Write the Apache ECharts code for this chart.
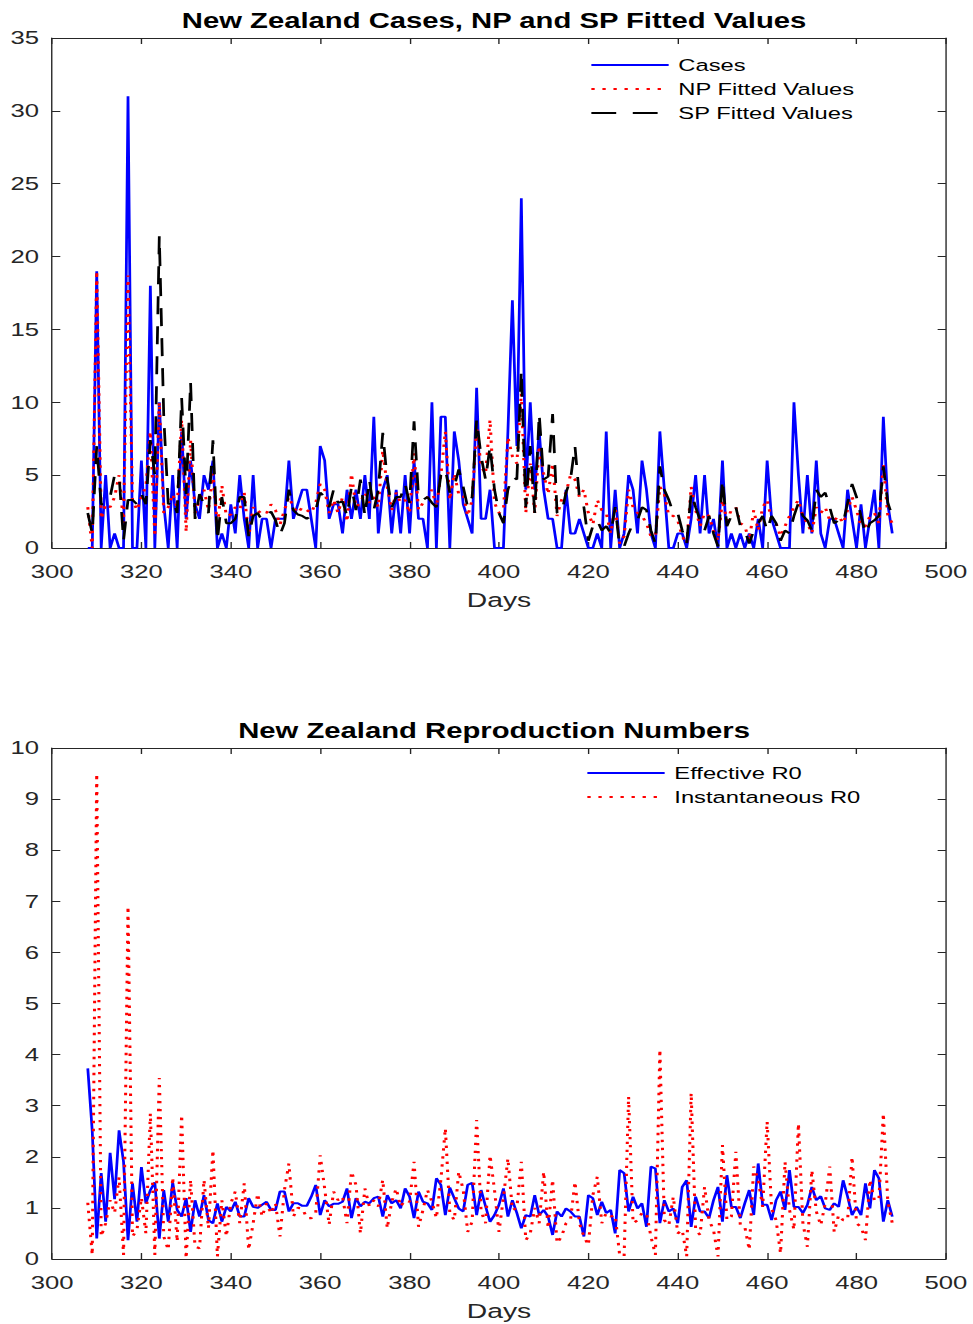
<!DOCTYPE html>
<html>
<head>
<meta charset="utf-8">
<script src="https://cdn.jsdelivr.net/npm/echarts@6.0.0/dist/echarts.min.js"></script>
<style>
html,body{margin:0;padding:0;background:#fff;overflow:hidden;}
#wrap{width:973px;height:1324px;overflow:hidden;}
#chart{width:705px;height:1324px;transform:scaleX(1.3801);transform-origin:0 0;}
</style>
</head>
<body>
<div id="wrap"><div id="chart"></div></div>
<script>
// ---- data (days 308 .. 488) ----
const firstDay = 308;
const xTicks = [300, 320, 340, 360, 380, 400, 420, 440, 460, 480, 500];

const cases = [
  0,0,19,0,5,0,1,0,0,31,
  0,0,6,0,18,0,10,3,0,5,
  0,8,2,6,3,2,5,4,6,0,
  1,0,3,1,5,2,0,5,0,2,
  2,0,2,2,2,6,2,3,4,4,
  2,0,7,6,2,3,3,1,4,2,
  4,2,5,2,9,1,4,5,1,4,
  1,5,1,6,2,2,0,10,0,9,
  9,0,8,6,3,2,1,11,2,2,
  4,0,0,0,8,17,7,24,4,10,
  4,8,4,2,2,0,0,4,1,1,
  2,1,0,0,1,0,8,0,4,0,
  1,5,4,1,6,4,1,0,8,4,
  0,0,1,1,0,2,5,1,5,1,
  2,0,6,0,1,0,1,0,1,0,
  2,0,6,2,1,0,0,0,10,5,
  1,5,1,6,1,0,2,2,1,0,
  4,2,0,3,0,2,4,0,9,3,
  1
];

const npFitted = [
  2.8,0,19,2,3,2.8,3.5,5,1.7,18.7,
  3.3,2.6,3.5,4.2,8,0.8,10,2.4,2.8,3.7,
  2.8,8.8,1.1,7.4,2.4,3.3,4,2.6,5.1,1.5,
  4.3,2.2,2.3,2.8,2.6,3.8,0.8,2.8,2.4,2.6,
  2.4,3.0,2.6,1.6,2.6,3.5,2.8,2.4,2.8,2.6,
  2.4,3.1,4.4,4.0,2.4,3.3,2.4,3.5,1.8,5.1,
  2.8,3.1,3.8,3.1,3.5,2.8,6.7,4.2,2.6,3.8,
  3.1,3.3,2.4,6.5,2.6,3.1,3.5,4.0,2.8,5,
  8,3.3,5.1,3.7,3.7,2.2,3.3,8.3,5.6,5.1,
  8.8,3.1,2.4,2.6,7.6,6.3,5.8,10.6,2.4,5.8,
  2.4,7,5.1,3.7,5.8,2.2,3.3,3.8,5,4.7,
  3.5,4,2.4,1.6,3.3,2.6,2.4,1.0,2.8,0.3,
  0.8,4.0,2.8,2.4,2.2,1.7,0.8,0.8,4.2,3.7,
  2.2,2.2,1.9,0.8,0.3,4.2,2.6,1.5,2.4,2.2,
  1.2,0.5,3.3,1.9,2.6,2.8,1.7,1.5,0.5,2.6,
  1.2,2.8,3.3,1.9,1.7,0.8,1.5,2.2,2.8,3.3,
  2.2,1.7,1.0,2.8,2.4,2.8,1.9,1.9,2.2,1.7,
  2.6,3.5,2.6,1.5,1.5,2.2,2.4,1.7,5.8,2.2,
  1.7
];

const spFitted = [
  2.4,1.0,7,3,3,3.5,5,5,0.5,3.3,
  3.3,3,3.7,3,7.4,5,21.4,9,3,3.3,
  2.4,10.3,3.7,11.4,2,3.7,3,2.4,7.4,0.5,
  3.5,1.7,1.7,2,3.5,3.5,0.8,2.2,2.4,1.9,
  2.2,2.5,1.9,0.9,1.7,4.0,2.6,2.3,2.2,2.0,
  2.2,2.6,3.8,3.5,2.8,4.0,3.1,3.2,2.2,4.2,
  2.6,4.7,2.2,4.7,2.6,4.0,7.9,4.7,2.8,3.5,
  3.5,4.4,3.1,8.7,3.5,3.3,3.5,3.1,2.8,5,
  5.4,3.8,4.2,5.4,4.2,2.8,3.5,8.8,6.3,4.7,
  7.0,4.0,2.4,1.7,4.0,4.9,4.7,12.2,2.8,7.0,
  2.4,9.2,4.7,4.9,9.2,2.4,2.4,3.8,4.7,7.0,
  3.5,2.8,0.5,1.5,1.9,1.2,1.5,1.0,2.8,0.1,
  0.1,1.0,1.7,1.9,2.8,2.6,1.2,0.3,5.6,4.0,
  3.3,2.4,2.4,1.2,0.3,3.8,2.8,1.9,1.2,2.2,
  1.0,0.1,4.7,1.5,2.2,2.8,1.5,1.2,0.3,1.2,
  1.7,2.2,1.2,2.2,1.7,0.5,1.2,1.0,2.2,3.1,
  2.2,1.9,1.2,4.0,3.5,3.8,2.8,1.7,1.9,1.7,
  3.1,4.4,3.5,2.2,1.0,1.7,1.9,2.2,5.6,3.1,
  2.2
];

const effectiveR0 = [
  3.73,2.5,0.4,1.68,0.73,2.08,1.17,2.52,1.9,0.37,
  1.48,0.73,1.8,1.09,1.35,1.5,0.4,1.35,0.73,1.5,
  0.96,0.83,1.19,0.53,1.15,0.83,1.25,0.76,0.7,1.09,
  0.73,1.02,0.93,1.12,0.83,0.83,1.19,1.02,1.0,1.06,
  1.12,0.96,0.96,1.32,1.32,0.93,1.09,1.09,1.04,1.04,
  1.22,1.45,0.86,1.15,1.03,1.08,1.08,1.12,1.38,0.8,
  1.19,1.03,1.12,1.09,1.19,1.22,0.83,1.25,1.09,1.15,
  0.99,1.38,1.22,0.8,1.32,1.12,1.09,0.96,1.58,1.45,
  0.86,1.4,1.19,0.99,0.93,1.45,1.49,0.86,1.35,1.03,
  0.73,0.86,1.06,1.38,0.83,1.15,0.9,0.6,0.86,0.83,
  1.25,0.86,0.96,0.83,0.47,0.93,0.83,0.99,0.93,0.83,
  0.83,0.44,1.25,1.19,0.86,1.12,0.9,0.96,0.5,1.74,
  1.68,0.93,1.22,0.99,1.09,0.63,1.81,1.77,0.7,1.15,
  0.93,0.99,0.7,1.41,1.54,0.63,1.22,0.93,0.93,0.8,
  1.15,1.41,0.73,1.64,1.02,1.02,0.8,1.09,1.35,0.86,
  1.87,1.06,1.06,0.76,1.15,1.32,0.96,1.74,1.02,1.02,
  0.9,1.06,1.41,1.15,1.23,0.99,0.96,1.09,1.02,1.54,
  1.22,0.86,1.02,0.86,1.48,0.99,1.74,1.58,0.73,1.15,
  0.83
];

const instantR0 = [
  1.1,0.08,9.5,0.44,0.7,1.15,0.9,1.6,0.08,6.9,
  0.44,0.57,1.2,0.5,2.85,0.08,3.54,0.44,0.18,1.6,
  0.34,2.82,0.01,1.55,0.24,0.21,1.55,0.6,2.13,0.05,
  1.15,0.44,1.09,1.32,0.7,1.48,0.18,0.7,1.28,0.83,
  1.09,0.89,1.09,0.44,1.35,1.87,0.83,1.0,0.99,0.8,
  0.8,0.9,2.03,1.38,0.67,1.32,1.15,1.22,0.7,1.71,
  1.45,0.5,1.38,1.03,1.15,1.03,1.55,0.6,1.12,1.38,
  1.03,1.15,1.12,1.9,0.63,0.96,1.35,1.12,0.8,1.55,
  2.56,0.9,0.76,1.71,1.35,0.53,0.73,2.72,0.93,0.7,
  2.03,1.35,0.53,1.2,1.97,0.96,1.0,1.9,0.37,0.5,
  1.0,0.7,1.71,0.6,1.55,0.31,0.44,0.7,0.76,1.51,
  0.7,0.44,0.27,1.25,1.61,0.7,0.9,0.83,0.86,0.08,
  0.05,3.18,0.7,0.76,0.9,0.9,0.44,0.08,4.1,0.76,
  0.66,1.22,0.5,0.57,0.05,3.25,0.57,0.47,1.41,0.76,
  0.57,0.05,2.23,0.76,0.83,2.1,0.66,0.63,0.18,1.81,
  1.55,1.02,2.69,0.99,0.76,0.11,1.9,0.96,0.57,2.65,
  0.7,0.24,1.74,0.93,0.66,1.09,1.81,0.53,0.86,0.76,
  0.76,2.0,0.7,0.63,0.37,1.55,1.15,1.15,2.85,1.12,
  0.7
];

const days = cases.map((_, i) => firstDay + i);
const pairs = arr => arr.map((v, i) => [days[i], v]);

// ---- styling ----
const FONT = "'Liberation Sans', Arial, Helvetica, sans-serif";
const AX = '#262626';
const GRID_L = 37.7, GRID_R = 19.6;

function xBottom(gi) {
  return {
    type: 'value', gridIndex: gi, position: 'bottom',
    min: xTicks[0], max: xTicks[xTicks.length - 1], interval: 20,
    axisLine: { show: true, onZero: false, lineStyle: { color: AX, width: 1 } },
    axisTick: { show: true, inside: true, length: 6, lineStyle: { color: AX, width: 1 } },
    splitLine: { show: false },
    axisLabel: { show: true, color: AX, fontSize: 18.6, margin: 14, fontFamily: FONT },
    name: 'Days', nameLocation: 'middle', nameGap: 41,
    nameTextStyle: { fontSize: 20.5, color: AX, fontFamily: FONT }
  };
}
function xTop(gi) {
  return {
    type: 'value', gridIndex: gi, position: 'top',
    min: xTicks[0], max: xTicks[xTicks.length - 1], interval: 20,
    axisLine: { show: true, onZero: false, lineStyle: { color: AX, width: 1 } },
    axisTick: { show: true, inside: true, length: 6, lineStyle: { color: AX, width: 1 } },
    splitLine: { show: false }, axisLabel: { show: false }
  };
}
function yLeft(gi, max, step) {
  return {
    type: 'value', gridIndex: gi, position: 'left', min: 0, max: max, interval: step,
    axisLine: { show: true, onZero: false, lineStyle: { color: AX, width: 1 } },
    axisTick: { show: true, inside: true, length: 6, lineStyle: { color: AX, width: 1 } },
    splitLine: { show: false },
    axisLabel: { show: true, color: AX, fontSize: 18.6, margin: 9.4, fontFamily: FONT }
  };
}
function yRight(gi, max, step) {
  return {
    type: 'value', gridIndex: gi, position: 'right', min: 0, max: max, interval: step,
    axisLine: { show: true, onZero: false, lineStyle: { color: AX, width: 1 } },
    axisTick: { show: true, inside: true, length: 6, lineStyle: { color: AX, width: 1 } },
    splitLine: { show: false }, axisLabel: { show: false }
  };
}
function lineSeries(name, data, xi, yi, color, type, width) {
  return {
    name: name, type: 'line', xAxisIndex: xi, yAxisIndex: yi,
    data: pairs(data), symbol: 'none', showSymbol: false, silent: true,
    lineStyle: { color: color, width: width || 2, type: type },
    itemStyle: { color: color, opacity: 0 }
  };
}

const titleStyle = { fontSize: 21.2, fontWeight: 'bold', color: '#000', fontFamily: FONT };
const legendText = { fontSize: 17.2, color: '#000', fontFamily: FONT, lineHeight: 17, padding: [0, 0, 0, 2] };
const DOT = [2.4, 5.6];

const option = {
  animation: false,
  backgroundColor: '#fff',
  textStyle: { fontFamily: FONT },
  title: [
    { text: 'New Zealand Cases, NP and SP Fitted Values', left: 358, top: 10, textAlign: 'center', padding: 0, textStyle: titleStyle },
    { text: 'New Zealand Reproduction Numbers', left: 358, top: 720, textAlign: 'center', padding: 0, textStyle: titleStyle }
  ],
  grid: [
    { left: GRID_L, right: GRID_R, top: 38, height: 510 },
    { left: GRID_L, right: GRID_R, top: 748, height: 511 }
  ],
  legend: [
    { data: ['Cases', 'NP Fitted Values', 'SP Fitted Values'], orient: 'vertical', left: 427.5, top: 56.5,
      padding: 0, itemGap: 7, itemWidth: 56, itemHeight: 14, selectedMode: false,
      itemStyle: { opacity: 0 }, textStyle: legendText },
    { data: ['Effective R0', 'Instantaneous R0'], orient: 'vertical', left: 424.6, top: 764.5,
      padding: 0, itemGap: 7, itemWidth: 56, itemHeight: 14, selectedMode: false,
      itemStyle: { opacity: 0 }, textStyle: legendText }
  ],
  xAxis: [xBottom(0), xTop(0), xBottom(1), xTop(1)],
  yAxis: [yLeft(0, 35, 5), yRight(0, 35, 5), yLeft(1, 10, 1), yRight(1, 10, 1)],
  series: [
    lineSeries('Cases', cases, 0, 0, '#0000ff', 'solid', 2),
    lineSeries('NP Fitted Values', npFitted, 0, 0, '#ff0000', DOT, 2.2),
    lineSeries('SP Fitted Values', spFitted, 0, 0, '#000000', [18, 12], 2),
    lineSeries('Effective R0', effectiveR0, 2, 2, '#0000ff', 'solid', 2),
    lineSeries('Instantaneous R0', instantR0, 2, 2, '#ff0000', DOT, 2.2)
  ]
};

const chart = echarts.init(document.getElementById('chart'), null, { renderer: 'svg' });
chart.setOption(option);
</script>
</body>
</html>
